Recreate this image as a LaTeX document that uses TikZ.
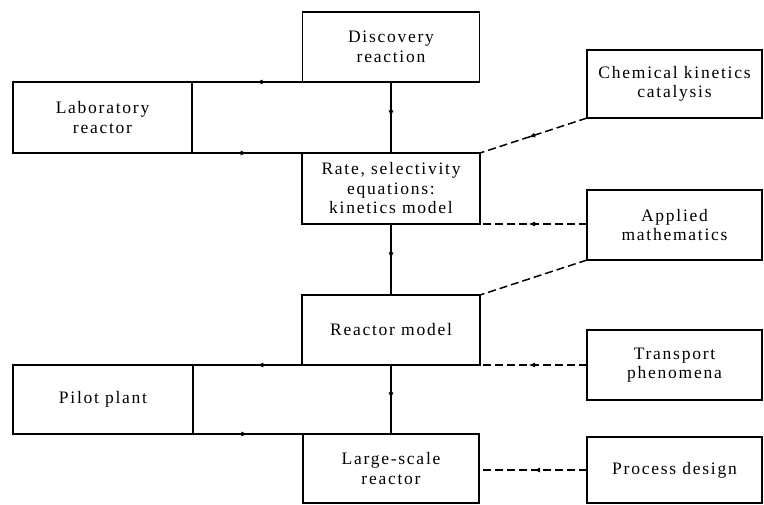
\documentclass[tikz,border=0pt]{standalone}
\usepackage{fontspec}
\setmainfont{Liberation Serif}[LetterSpace=10]
\usetikzlibrary{arrows.meta,decorations.markings}
\tikzset{
  box/.style={draw, line width=1.5pt, inner sep=0pt, outer sep=0pt, align=center,
    font=\fontsize{17.5}{19.5}\selectfont},
  link/.style={line width=1.5pt},
  dlink/.style={line width=1.5pt, dash pattern=on 8pt off 4pt},
  midarrow/.style={postaction={decorate}, decoration={markings,
    mark=at position #1 with {\arrow{Latex[length=7pt,width=5pt]}}}},
}
\begin{document}
\begin{tikzpicture}[x=1pt,y=-1pt]
\useasboundingbox (0,0) rectangle (764,505);
% central column
\node[box, minimum width=177pt, minimum height=70pt] (disc) at (391,47) {Discovery\\reaction};
\node[box, minimum width=178pt, minimum height=71pt] (rate) at (391,188.5) {Rate, selectivity\\equations:\\kinetics model};
\node[box, minimum width=178pt, minimum height=70pt] (reac) at (391,330) {Reactor model};
\node[box, minimum width=176pt, minimum height=69pt] (large) at (391,468.5) {Large-scale\\reactor};
% left column
\node[box, minimum width=179pt, minimum height=71pt] (lab) at (102.5,117.5) {Laboratory\\reactor};
\node[box, minimum width=180pt, minimum height=69pt] (pilot) at (103,399.5) {Pilot plant};
% right column
\node[box, minimum width=175pt, minimum height=68pt] (chem) at (674.5,84) {Chemical kinetics\\catalysis};
\node[box, minimum width=175pt, minimum height=70pt] (appl) at (674.5,225) {Applied\\mathematics};
\node[box, minimum width=175pt, minimum height=70pt] (trans) at (674.5,365) {Transport\\phenomena};
\node[box, minimum width=175pt, minimum height=66pt] (proc) at (674.5,470) {Process design};
% solid connectors
\draw[link, midarrow=0.5] (disc.south) -- (rate.north);
\draw[link, midarrow=0.68] (disc.south) -- (lab.north east);
\draw[link, midarrow=0.28] (lab.south east) -- (rate.north);
\draw[link, midarrow=0.5] (rate.south) -- (reac.north);
\draw[link, midarrow=0.68] (reac.south) -- (pilot.north east);
\draw[link, midarrow=0.28] (pilot.south east) -- (large.north);
\draw[link, midarrow=0.5] (reac.south) -- (large.north);
% dashed connectors
\draw[dlink, midarrow=0.55] (chem.south west) -- (rate.north east);
\draw[dlink, midarrow=0.55] (appl.west |- rate.south east) -- (rate.south east);
\draw[dlink] (appl.south west) -- (reac.north east);
\draw[dlink, midarrow=0.55] (trans.west) -- (reac.south east);
\draw[dlink, midarrow=0.5] (proc.west) -- (proc.west -| large.east);
\end{tikzpicture}
\end{document}
